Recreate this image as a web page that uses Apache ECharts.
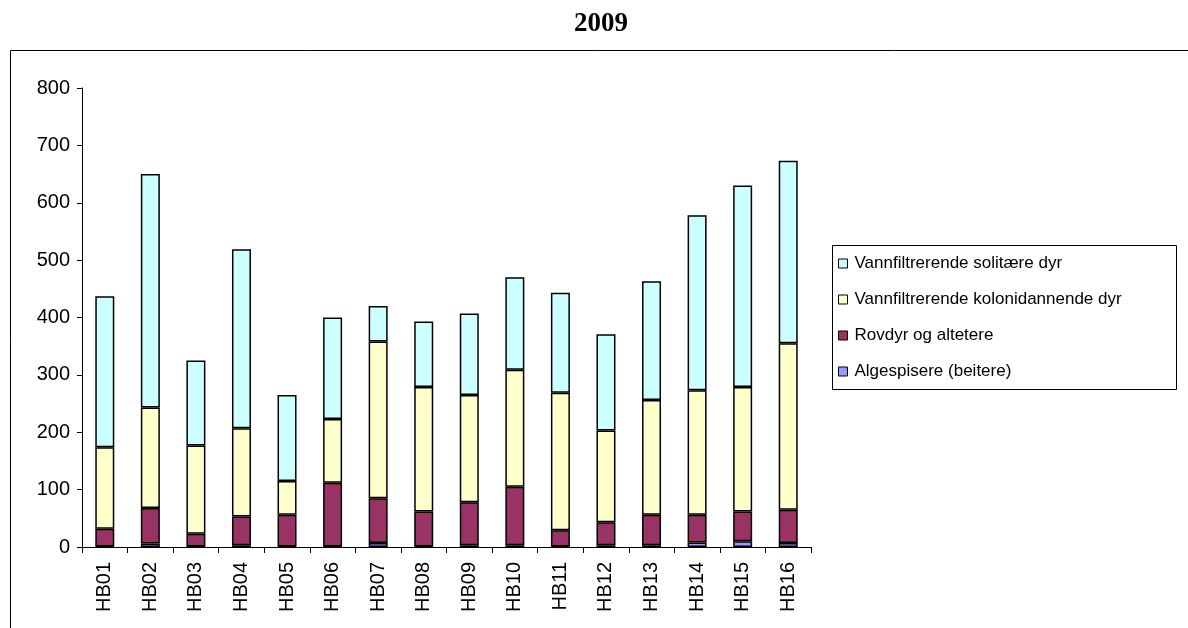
<!DOCTYPE html>
<html><head><meta charset="utf-8">
<script src="https://cdn.jsdelivr.net/npm/echarts@6/dist/echarts.min.js"></script>
<style>html,body{margin:0;padding:0;background:#fff}#c{width:1188px;height:628px}</style>
</head><body><div id="c"></div>
<script>
const categories = ['HB01','HB02','HB03','HB04','HB05','HB06','HB07','HB08','HB09','HB10','HB11','HB12','HB13','HB14','HB15','HB16'];
const algespisere = [1,6,1,3,1,1,7,1,3,3,1,3,3,8,10,7];
const rovdyr = [31,62,22,50,55,111,78,61,75,102,28,40,53,48,52,58];
const kolonidannende = [142,175,154,154,59,111,273,217,187,204,240,160,200,217,217,290];
const solitaere = [263,407,148,312,150,177,62,114,142,161,174,168,207,305,351,318];
const yTicks = [0,100,200,300,400,500,600,700,800];
const seriesNames = ['Algespisere (beitere)','Rovdyr og altetere','Vannfiltrerende kolonidannende dyr','Vannfiltrerende solitære dyr'];
const seriesColors = ['#9999FF','#993366','#FFFFCC','#CCFFFF'];
const seriesData = [algespisere, rovdyr, kolonidannende, solitaere];

const chart = echarts.init(document.getElementById('c'), null, {renderer:'canvas'});
const font = '"Liberation Sans", Arial, sans-serif';
chart.setOption({
  animation:false,
  backgroundColor:'#fff',
  graphic:[
    {type:'rect', shape:{x:10.5,y:50.5,width:1200,height:600}, style:{fill:'none',stroke:'#000',lineWidth:1}, z:0},
    {type:'rect', shape:{x:832.5,y:245.5,width:344,height:144}, style:{fill:'#fff',stroke:'#000',lineWidth:1}, z:1},
    {type:'text', x:601, y:24, style:{text:'2009', font:'bold 27px "Liberation Serif", "Times New Roman", serif', fill:'#000', textAlign:'center', textVerticalAlign:'middle'}, z:5}
  ],
  legend:{
    orient:'vertical', left:838, top:255, padding:0,
    itemWidth:9, itemHeight:9, itemGap:19,
    icon:'rect',
    itemStyle:{borderColor:'#000', borderWidth:1},
    textStyle:{fontFamily:font, fontSize:17, color:'#000', padding:[0,0,0,2]},
    data:[seriesNames[3],seriesNames[2],seriesNames[1],seriesNames[0]],
    z:10
  },
  grid:{left:82, right:377, top:88, bottom:81, containLabel:false},
  xAxis:{
    type:'category', data:categories,
    axisLine:{lineStyle:{color:'#000',width:1}},
    axisTick:{show:true, alignWithLabel:false, length:6, lineStyle:{color:'#000'}},
    axisLabel:{rotate:90, fontFamily:font, fontSize:20, color:'#000', margin:15}
  },
  yAxis:{
    type:'value', min:yTicks[0], max:yTicks[yTicks.length-1], interval:100,
    axisLine:{show:true, lineStyle:{color:'#000',width:1}},
    axisTick:{show:true, length:5, lineStyle:{color:'#000'}},
    splitLine:{show:false},
    axisLabel:{fontFamily:font, fontSize:20, color:'#000', margin:12}
  },
  series: seriesData.map((d,i)=>({
    name:seriesNames[i], type:'bar', stack:'total', data:d, barWidth:19,
    itemStyle:{color:seriesColors[i], borderColor:'#000', borderWidth:1.5}
  }))
});
</script></body></html>
